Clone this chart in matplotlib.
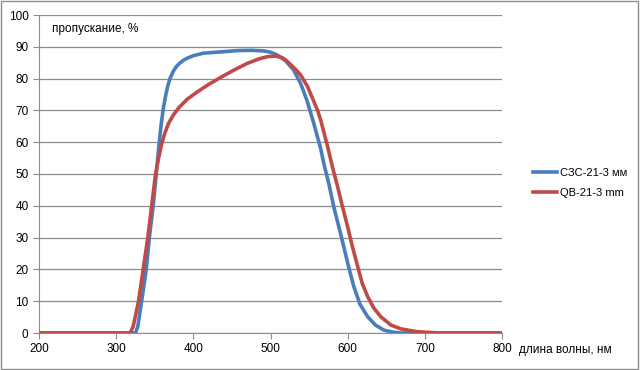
import matplotlib
matplotlib.use('Agg')
import matplotlib.pyplot as plt
from matplotlib.patches import Rectangle

plt.rcParams['font.family'] = ['Liberation Sans', 'DejaVu Sans']

# data
wl_szs = [200, 300, 325, 328, 333, 339, 343, 348, 352, 355, 358, 361, 364, 367,
          370, 374, 378, 383, 388, 393, 400, 413, 430, 457, 475, 491, 500, 509,
          520, 530, 539, 547, 556, 565, 569, 576, 582, 589, 595, 601, 608, 616,
          626, 636, 647, 658, 669, 700, 800]
t_szs = [0, 0, 0, 2, 10, 20, 30, 40, 50, 58, 65, 70.5, 74.5, 77.8,
         80.2, 82.3, 83.8, 85, 85.9, 86.5, 87.2, 88.0, 88.3, 88.8, 88.9, 88.7, 88.3, 87.4,
         85.5, 82.7, 78.5, 73.3, 66.0, 58, 53.4, 46.5, 39.7, 33, 27.1, 21, 14.6, 9,
         5.1, 2.5, 0.9, 0.3, 0, 0, 0]

wl_qb = [200, 300, 318, 322, 329, 335, 341, 346, 351, 355, 359, 363, 368, 374,
         381, 392, 405, 420, 435, 452, 470, 485, 496, 506, 515, 520, 530, 539,
         548, 561, 565, 574, 580, 587, 593, 600, 606, 613, 619, 626, 634, 643,
         656, 669, 690, 720, 800]
t_qb = [0, 0, 0, 2, 10, 20, 30, 40, 50, 55, 59.5, 62.8, 66, 68.5,
        70.8, 73.5, 75.8, 78.2, 80.3, 82.6, 84.8, 86.2, 86.9, 87.1, 86.6, 85.8, 83.5, 81.2,
        77.5, 70, 67, 58.6, 52.5, 46, 40, 33.4, 27.3, 20.9, 15.5, 11.4, 7.8, 5.1,
        2.5, 1.3, 0.4, 0, 0]

labels = ['СЗС-21-3 мм', 'QB-21-3 mm']
colors = ['#4a7ebb', '#be4b48']

fig = plt.figure(figsize=(6.4, 3.7), dpi=100)
ax = fig.add_axes([39/640, 37/370, 463/640, 318/370])

ax.plot(wl_szs, t_szs, color=colors[0], lw=2.6, label=labels[0], zorder=3,
        solid_joinstyle='round')
ax.plot(wl_qb, t_qb, color=colors[1], lw=2.6, label=labels[1], zorder=3,
        solid_joinstyle='round')

ax.set_xlim(200, 800)
ax.set_ylim(0, 100)
ax.set_xticks(range(200, 801, 100))
ax.set_yticks(range(0, 101, 10))
ax.grid(axis='y', color='#8c8c8c', lw=0.9)
ax.set_axisbelow(True)
for s in ['top', 'right']:
    ax.spines[s].set_visible(False)
for s in ['left', 'bottom']:
    ax.spines[s].set_color('#8c8c8c')
ax.tick_params(colors='#8c8c8c', labelcolor='black', labelsize=8.5, length=4, direction='out')

ax.text(0.028, 0.975, 'пропускание, %', transform=ax.transAxes, fontsize=8.5, va='top')
fig.text(519/640, 1 - 350/370, 'длина волны, нм', fontsize=8.5, va='center')

fig.legend(loc='center left', bbox_to_anchor=(527/640, 0.505), frameon=False,
           fontsize=8, handlelength=2.2, handletextpad=0.3, labelspacing=0.9, borderpad=0)

fig.patches.append(Rectangle((0.002, 0.004), 0.995, 0.992, transform=fig.transFigure,
                             fill=False, edgecolor='#8c8c8c', lw=1))

fig.savefig('out.png', dpi=100)
